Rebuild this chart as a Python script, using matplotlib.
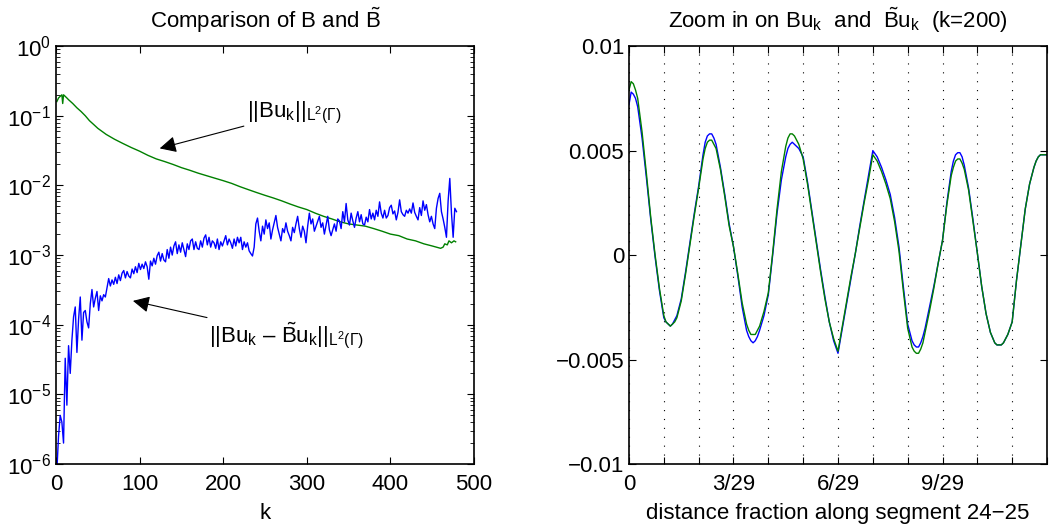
import numpy as np
import matplotlib
matplotlib.use("Agg")
from matplotlib import pyplot as plt
from matplotlib.ticker import FixedLocator, FixedFormatter, NullFormatter

plt.rcParams['font.family'] = ['Liberation Sans', 'DejaVu Sans']
plt.rcParams['mathtext.fontset'] = 'custom'
plt.rcParams['mathtext.rm'] = 'Liberation Sans'
plt.rcParams['mathtext.it'] = 'Liberation Sans'
plt.rcParams['mathtext.bf'] = 'Liberation Sans:bold'
plt.rcParams['font.size'] = 16

# --- left panel: norms vs k ---
k_norm = [1, 3, 5, 7, 8, 9, 11, 13, 15, 20, 25, 30, 35, 40, 45, 50, 60, 70, 80, 90,
          100, 110, 120, 130, 140, 150, 160, 170, 180, 190, 200, 210, 220, 230, 240,
          250, 260, 270, 280, 290, 300, 310, 320, 330, 340, 350, 360, 370, 380, 390,
          400, 410, 420, 430, 440, 450, 460, 463, 465, 468, 470, 473, 476, 478]
norm_Bu = [0.16, 0.18, 0.19, 0.2, 0.15, 0.2, 0.19, 0.18, 0.17, 0.15, 0.13, 0.115, 0.10,
           0.085, 0.075, 0.066, 0.054, 0.046, 0.040, 0.035, 0.031, 0.027, 0.024, 0.022,
           0.020, 0.018, 0.0165, 0.015, 0.0138, 0.0127, 0.0117, 0.0107, 0.0096, 0.0087,
           0.0079, 0.0072, 0.0066, 0.0060, 0.0054, 0.0049, 0.0045, 0.0040, 0.0036, 0.0033,
           0.0030, 0.0028, 0.0027, 0.0026, 0.0024, 0.0022, 0.0020, 0.0019, 0.0017, 0.0016,
           0.00145, 0.00135, 0.00125, 0.0013, 0.00145, 0.0014, 0.0016, 0.0015, 0.0016, 0.00155]

k_err = np.arange(1, 480, 2)
norm_err = [
    8e-7, 2.5e-6, 5e-6, 4e-6, 2e-6, 3.3e-5, 7e-6, 5e-5, 2e-5, 6e-5,
    1.3e-4, 1.8e-4, 4e-5, 1.2e-4, 2.5e-4, 6e-5, 1.5e-4, 1.6e-4, 1.1e-4, 9e-5,
    2e-4, 3.2e-4, 1.8e-4, 2.4e-4, 3e-4, 1.6e-4, 2.6e-4, 2.2e-4, 2.7e-4, 2.5e-4,
    3.4e-4, 4.6e-4, 3.6e-4, 4.4e-4, 3.8e-4, 4.8e-4, 3.9e-4, 5.2e-4, 4.3e-4, 5.5e-4,
    6e-4, 4.7e-4, 5.8e-4, 5e-4, 4.7e-4, 6.3e-4, 5.4e-4, 6.8e-4, 5.6e-4, 7.6e-4,
    6.2e-4, 7.4e-4, 6.4e-4, 8e-4, 6.8e-4, 4.5e-4, 8.2e-4, 7e-4, 9e-4, 7.4e-4,
    9.8e-4, 1.1e-3, 8.2e-4, 1.05e-3, 8.5e-4, 8e-4, 1.2e-3, 9e-4, 1.3e-3, 1e-3,
    1.35e-3, 1.55e-3, 1.05e-3, 1.4e-3, 1.1e-3, 1.5e-3, 1.2e-3, 9.5e-4, 1.45e-3, 1.2e-3,
    1.6e-3, 1.7e-3, 1.2e-3, 1.55e-3, 1.25e-3, 1.2e-3, 1.6e-3, 1.3e-3, 1.75e-3, 1.95e-3,
    1.4e-3, 1.8e-3, 1.3e-3, 1.6e-3, 1.5e-3, 1.25e-3, 1.7e-3, 1.2e-3, 1.55e-3, 1.35e-3,
    1.6e-3, 1.9e-3, 1.4e-3, 1.7e-3, 1.5e-3, 1.25e-3, 1.7e-3, 1.35e-3, 1.8e-3, 1.5e-3,
    1.8e-3, 1.2e-3, 1.55e-3, 1.3e-3, 1.5e-3, 1.15e-3, 1.05e-3, 9.7e-4, 1.3e-3, 2.8e-3,
    3.4e-3, 2.2e-3, 1.6e-3, 2.6e-3, 2e-3, 3.2e-3, 2.4e-3, 2.9e-3, 1.7e-3, 2.3e-3,
    2.9e-3, 3.7e-3, 2.5e-3, 2e-3, 1.6e-3, 2.4e-3, 2.1e-3, 2.9e-3, 2.2e-3, 1.9e-3,
    1.6e-3, 2.5e-3, 2.1e-3, 2.8e-3, 3.6e-3, 2.4e-3, 1.8e-3, 2.6e-3, 2.2e-3, 1.5e-3,
    2.6e-3, 4e-3, 2.8e-3, 3.3e-3, 2.2e-3, 2.6e-3, 3.1e-3, 3.6e-3, 2.5e-3, 2.9e-3,
    2e-3, 2.7e-3, 3.6e-3, 2.3e-3, 1.9e-3, 2.3e-3, 2.8e-3, 2.2e-3, 3.3e-3, 3.1e-3,
    2.4e-3, 4.2e-3, 3e-3, 5.5e-3, 3.2e-3, 2.7e-3, 4e-3, 3.1e-3, 2.5e-3, 3.4e-3,
    4.2e-3, 3e-3, 3.8e-3, 2.8e-3, 2.7e-3, 3.5e-3, 3e-3, 4.5e-3, 3.3e-3, 4e-3,
    3.2e-3, 4.4e-3, 3.6e-3, 5.8e-3, 4e-3, 3.4e-3, 4.4e-3, 3.4e-3, 3.7e-3, 4.8e-3,
    5.2e-3, 3.9e-3, 4.3e-3, 3.2e-3, 4.1e-3, 6.2e-3, 4.2e-3, 3.8e-3, 3.6e-3, 4.4e-3,
    4e-3, 4.6e-3, 4e-3, 5.6e-3, 4.1e-3, 3.6e-3, 3.2e-3, 4.8e-3, 3.7e-3, 6e-3,
    4.4e-3, 5.3e-3, 3.8e-3, 3e-3, 3.6e-3, 2.8e-3, 2.4e-3, 4.7e-3, 6.5e-3, 7.7e-3,
    4.2e-3, 3.3e-3, 2.5e-3, 1.8e-3, 6e-3, 1.26e-2, 4e-3, 1.8e-3, 4.7e-3, 4.2e-3]

log_ticks = [1e-6, 1e-5, 1e-4, 1e-3, 1e-2, 1e-1, 1e0]

# --- right panel: Bu_k and B~u_k along the segment (position in units of 1/29) ---
seg_pos = [
    0, 0.0625, 0.125, 0.1875, 0.25, 0.375, 0.5, 0.625, 0.75, 0.875,
    1.0, 1.0625, 1.125, 1.1875, 1.25, 1.3125, 1.375, 1.5, 1.625, 1.75, 1.875,
    2.0, 2.125, 2.1875, 2.25, 2.3125, 2.375, 2.4375, 2.5, 2.625, 2.75, 2.875,
    3.0, 3.125, 3.25, 3.375, 3.4375, 3.5, 3.5625, 3.625, 3.6875, 3.75, 3.875,
    4.0, 4.125, 4.25, 4.375, 4.5, 4.5625, 4.625, 4.6875, 4.75, 4.8125, 4.875,
    5.0, 5.125, 5.25, 5.375, 5.5, 5.625, 5.75, 5.875,
    6.0, 6.125, 6.25, 6.375, 6.5, 6.625, 6.75, 6.875,
    7.0, 7.125, 7.25, 7.375, 7.5, 7.625, 7.75, 7.875,
    8.0, 8.125, 8.1875, 8.25, 8.3125, 8.375, 8.4375, 8.5, 8.625, 8.75, 8.875,
    9.0, 9.125, 9.25, 9.3125, 9.375, 9.4375, 9.5, 9.5625, 9.625, 9.75, 9.875,
    10.0, 10.125, 10.25, 10.375, 10.5, 10.5625, 10.625, 10.6875, 10.75, 10.8125, 10.875,
    11.0, 11.125, 11.25, 11.375, 11.5, 11.625, 11.6875, 11.75, 11.8125, 11.875, 11.9375, 12.0]
Bu_tilde = [
    0.0072, 0.0078, 0.0077, 0.0075, 0.0071, 0.0056, 0.0037, 0.0017, -0.0001, -0.0017,
    -0.0030, -0.0032, -0.0033, -0.0034, -0.0033, -0.0031, -0.0029, -0.0021, -0.0008, 0.0006, 0.0020,
    0.0033, 0.0048, 0.0054, 0.0057, 0.0058, 0.0058, 0.0056, 0.0053, 0.0042, 0.0029, 0.0015,
    0.0004, -0.0010, -0.0025, -0.0036, -0.0039, -0.0041, -0.0042, -0.0041, -0.0039, -0.0036, -0.0029,
    -0.0019, 0.0000, 0.0020, 0.0036, 0.0047, 0.0051, 0.0053, 0.0054, 0.0053, 0.0052, 0.0051,
    0.0047, 0.0035, 0.0021, 0.0007, -0.0007, -0.0020, -0.0032, -0.0041,
    -0.0047, -0.0035, -0.0023, -0.0011, 0.0001, 0.0014, 0.0026, 0.0038,
    0.0050, 0.0047, 0.0042, 0.0036, 0.0029, 0.0018, 0.0004, -0.0015,
    -0.0033, -0.0041, -0.0043, -0.0044, -0.0044, -0.0042, -0.0039, -0.0035, -0.0025, -0.0015, -0.0004,
    0.0007, 0.0025, 0.0040, 0.0045, 0.0048, 0.0049, 0.0049, 0.0047, 0.0043, 0.0032, 0.0017,
    0.0001, -0.0015, -0.0028, -0.0037, -0.0042, -0.0043, -0.0043, -0.0043, -0.0042, -0.0040, -0.0038,
    -0.0032, -0.0012, 0.0005, 0.0022, 0.0034, 0.0042, 0.0045, 0.0047, 0.0048, 0.0048, 0.0048, 0.0048]
Bu_exact = [
    0.0079, 0.0083, 0.0082, 0.0079, 0.0075, 0.0059, 0.0039, 0.0018, 0.0000, -0.0016,
    -0.0029, -0.0032, -0.0033, -0.0034, -0.0033, -0.0032, -0.0030, -0.0022, -0.0009, 0.0005, 0.0019,
    0.0032, 0.0046, 0.0051, 0.0054, 0.0055, 0.0055, 0.0053, 0.0051, 0.0041, 0.0028, 0.0014,
    0.0004, -0.0009, -0.0023, -0.0033, -0.0036, -0.0038, -0.0038, -0.0038, -0.0036, -0.0034, -0.0027,
    -0.0018, 0.0001, 0.0022, 0.0040, 0.0052, 0.0056, 0.0058, 0.0058, 0.0057, 0.0055, 0.0053,
    0.0046, 0.0034, 0.0020, 0.0006, -0.0008, -0.0021, -0.0032, -0.0040,
    -0.0046, -0.0034, -0.0022, -0.0010, 0.0001, 0.0013, 0.0025, 0.0036,
    0.0048, 0.0045, 0.0040, 0.0034, 0.0027, 0.0016, 0.0002, -0.0017,
    -0.0035, -0.0044, -0.0046, -0.0047, -0.0047, -0.0045, -0.0042, -0.0037, -0.0027, -0.0016, -0.0004,
    0.0007, 0.0024, 0.0038, 0.0042, 0.0045, 0.0046, 0.0046, 0.0044, 0.0041, 0.0031, 0.0016,
    0.0001, -0.0015, -0.0028, -0.0037, -0.0042, -0.0043, -0.0043, -0.0043, -0.0042, -0.0040, -0.0038,
    -0.0032, -0.0012, 0.0005, 0.0022, 0.0034, 0.0042, 0.0045, 0.0047, 0.0048, 0.0048, 0.0048, 0.0048]

frac_ticks = np.arange(13)
frac_labels = ['0', '', '', '3/29', '', '', '6/29', '', '', '9/29', '', '', '']

blue = (0, 0, 1)
green = (0, 0.5, 0)

fig = plt.figure(figsize=(10.49, 5.27), dpi=100)
ax1 = fig.add_axes([0.0534, 0.1195, 0.3985, 0.793])
ax2 = fig.add_axes([0.5996, 0.1195, 0.3985, 0.793])

ax1.semilogy(k_norm, norm_Bu, color=green, lw=1.0)
ax1.semilogy(k_err, norm_err, color=blue, lw=1.0)
ax1.set_xlim(0, 500)
ax1.set_ylim(1e-6, 1)
ax1.set_xticks([0, 100, 200, 300, 400, 500])
ax1.yaxis.set_major_locator(FixedLocator(log_ticks))
ax1.yaxis.set_minor_formatter(NullFormatter())
ax1.set_xlabel('k', labelpad=6)
ax1.set_title(r'Comparison of B and $\tilde{\mathrm{B}}$', fontsize=16, pad=13)
ax1.annotate(r'$||\mathrm{Bu}_\mathrm{k}||_{\mathrm{L}^2(\Gamma)}$', xy=(124, 0.034), xytext=(228, 0.11),
             fontsize=16, va='center',
             arrowprops=dict(arrowstyle='-|>', color='k', lw=0.8, mutation_scale=25, shrinkA=0, shrinkB=0))
ax1.annotate(r'$||\mathrm{Bu}_\mathrm{k}$ – $\tilde{\mathrm{B}}\mathrm{u}_\mathrm{k}||_{\mathrm{L}^2(\Gamma)}$',
             xy=(92, 2.2e-4), xytext=(183, 7e-5),
             fontsize=16, va='center',
             arrowprops=dict(arrowstyle='-|>', color='k', lw=0.8, mutation_scale=25, shrinkA=0, shrinkB=0))

seg_x = np.array(seg_pos) / 29
ax2.plot(seg_x, Bu_tilde, color=blue, lw=1.0)
ax2.plot(seg_x, Bu_exact, color=green, lw=1.0)
ax2.set_xlim(0, 12 / 29)
ax2.set_ylim(-0.01, 0.01)
ax2.xaxis.set_major_locator(FixedLocator(frac_ticks / 29))
ax2.xaxis.set_major_formatter(FixedFormatter(frac_labels))
ax2.set_yticks([-0.01, -0.005, 0, 0.005, 0.01])
ax2.set_yticklabels(['\u22120.01', '\u22120.005', '0', '0.005', '0.01'])
ax2.xaxis.grid(True, color='k', linestyle=(0, (1, 7)), lw=0.8)
ax2.set_xlabel('distance fraction along segment 24\u221225', labelpad=6)
ax2.set_title(r'Zoom in on Bu$_\mathrm{k}$  and  $\tilde{\mathrm{B}}$u$_\mathrm{k}$  (k=200)', fontsize=16, pad=13)

for ax in (ax1, ax2):
    ax.tick_params(direction='in', top=True, right=True, which='both', labelsize=16)
    ax.tick_params(which='major', length=5)
    ax.tick_params(which='minor', length=3)
    ax.tick_params(axis='x', pad=7)
    for sp in ax.spines.values():
        sp.set_linewidth(1.2)

fig.savefig('out.png', dpi=100)
